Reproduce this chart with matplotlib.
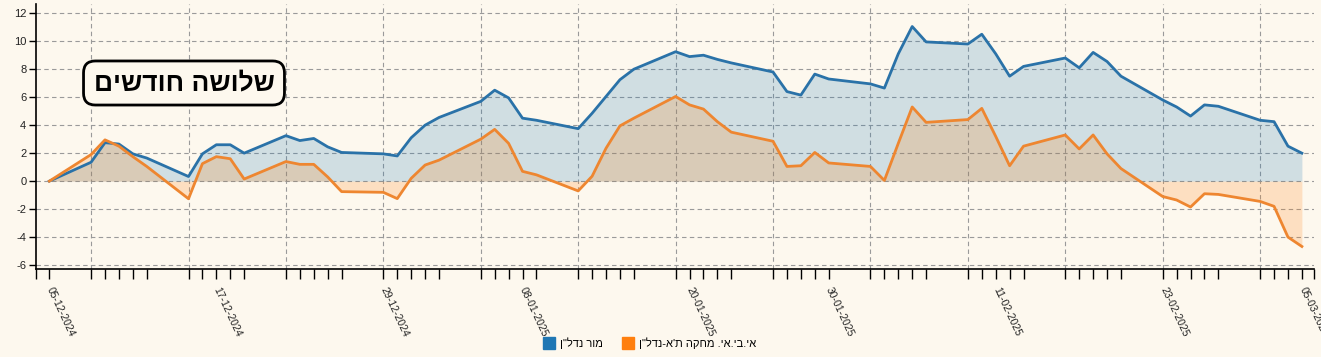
import pandas as pd
import matplotlib.pyplot as plt
import matplotlib.dates as mdates
from matplotlib.lines import Line2D
from matplotlib.ticker import FixedLocator, FuncFormatter

plt.rcParams['font.family'] = ['Liberation Sans', 'DejaVu Sans']
plt.rcParams['axes.unicode_minus'] = False

# trading days (Sun-Thu)
dates = ['2024-12-05', '2024-12-08', '2024-12-09', '2024-12-10', '2024-12-11', '2024-12-12',
         '2024-12-15', '2024-12-16', '2024-12-17', '2024-12-18', '2024-12-19',
         '2024-12-22', '2024-12-23', '2024-12-24', '2024-12-25', '2024-12-26',
         '2024-12-29', '2024-12-30', '2024-12-31', '2025-01-01', '2025-01-02',
         '2025-01-05', '2025-01-06', '2025-01-07', '2025-01-08', '2025-01-09',
         '2025-01-12', '2025-01-13', '2025-01-14', '2025-01-15', '2025-01-16',
         '2025-01-19', '2025-01-20', '2025-01-21', '2025-01-22', '2025-01-23',
         '2025-01-26', '2025-01-27', '2025-01-28', '2025-01-29', '2025-01-30',
         '2025-02-02', '2025-02-03', '2025-02-04', '2025-02-05', '2025-02-06',
         '2025-02-09', '2025-02-10', '2025-02-11', '2025-02-12', '2025-02-13',
         '2025-02-16', '2025-02-17', '2025-02-18', '2025-02-19', '2025-02-20',
         '2025-02-23', '2025-02-24', '2025-02-25', '2025-02-26', '2025-02-27',
         '2025-03-02', '2025-03-03', '2025-03-04', '2025-03-05']

mor = [0, 1.35, 2.75, 2.65, 1.95, 1.65,
       0.33, 1.95, 2.6, 2.6, 2.0,
       3.25, 2.9, 3.05, 2.45, 2.05,
       1.95, 1.8, 3.1, 4.0, 4.55,
       5.7, 6.5, 5.95, 4.5, 4.35,
       3.75, 4.85, 6.05, 7.25, 8.0,
       9.25, 8.9, 9.0, 8.7, 8.45,
       7.8, 6.4, 6.15, 7.65, 7.3,
       6.95, 6.65, 9.1, 11.05, 9.95,
       9.8, 10.5, 9.1, 7.5, 8.2,
       8.8, 8.1, 9.2, 8.55, 7.5,
       5.8, 5.3, 4.65, 5.45, 5.35,
       4.35, 4.25, 2.5, 2.0]

ibi = [0, 1.9, 2.95, 2.5, 1.75, 1.05,
       -1.26, 1.25, 1.75, 1.6, 0.15,
       1.4, 1.2, 1.2, 0.3, -0.75,
       -0.8, -1.25, 0.2, 1.15, 1.5,
       3.0, 3.7, 2.7, 0.7, 0.45,
       -0.7, 0.35, 2.35, 3.95, 4.5,
       6.05, 5.45, 5.15, 4.25, 3.5,
       2.85, 1.05, 1.1, 2.05, 1.3,
       1.05, 0.05, 2.7, 5.3, 4.2,
       4.4, 5.2, 3.2, 1.1, 2.5,
       3.3, 2.3, 3.3, 1.95, 0.9,
       -1.1, -1.35, -1.85, -0.9, -0.95,
       -1.45, -1.8, -4.0, -4.67]

label_dates = ['2024-12-05', '2024-12-17', '2024-12-29', '2025-01-08', '2025-01-20',
               '2025-01-30', '2025-02-11', '2025-02-23', '2025-03-05']
tick_labels = ['05-12-2024', '17-12-2024', '29-12-2024', '08-01-2025', '20-01-2025',
               '30-01-2025', '11-02-2025', '23-02-2025', '05-03-2025']
series_names = ['מור נדל"ן', 'אי.בי.אי. מחקה ת\'א-נדל"ן']
title = 'שלושה חודשים'

bg = '#fdf8ee'
blue = '#2a72a8'
orange = '#ee8630'


def rtl(s):
    # matplotlib has no bidi support, so flip hebrew for display
    return s[::-1]


x = pd.to_datetime(dates)
fig = plt.figure(figsize=(13.21, 3.57), dpi=100, facecolor=bg)
ax = fig.add_axes([0.02725, 0.2457, 0.9675, 0.7431], facecolor=bg)

ax.fill_between(x, mor, 0, color='#1f77b4', alpha=0.2, linewidth=0)
ax.fill_between(x, ibi, 0, color='#ff7f0e', alpha=0.2, linewidth=0)
ax.plot(x, mor, color=blue, lw=2, solid_joinstyle='round')
ax.plot(x, ibi, color=orange, lw=2, solid_joinstyle='round')

xmin = x[0] - pd.Timedelta(hours=23)
xmax = x[-1] + pd.Timedelta(hours=21)
ax.set_xlim(xmin, xmax)
ax.set_ylim(-6.3, 12.66)

# ticks on every trading day, labels only on a few
lab = dict(zip(pd.to_datetime(label_dates), tick_labels))
tick_pos = [mdates.date2num(xmin)] + list(mdates.date2num(x)) + [mdates.date2num(xmax)]
ax.xaxis.set_major_locator(FixedLocator(tick_pos))
ax.xaxis.set_major_formatter(FuncFormatter(
    lambda v, p: lab.get(pd.Timestamp(mdates.num2date(v).replace(tzinfo=None)).round('D'), '')))
# weekly grid on sundays (these overlap major ticks, keep them anyway)
ax.xaxis.set_minor_locator(mdates.WeekdayLocator(byweekday=mdates.SU))
ax.xaxis.remove_overlapping_locs = False
ax.tick_params(axis='x', which='major', length=7, width=1, pad=6, labelsize=7.5)
ax.tick_params(axis='x', which='minor', length=0)
for t in ax.get_xticklabels():
    t.set_rotation(-65)
    t.set_rotation_mode('anchor')
    t.set_ha('left')
    t.set_va('center')
    t.set_color('#222222')

ax.set_yticks(range(-6, 13, 2))
ax.tick_params(axis='y', length=5, width=1, pad=2, labelsize=8, labelcolor='#222222')

ax.grid(axis='y', which='major', color='#9a9a9a', linestyle=(0, (4, 3)), linewidth=0.8)
ax.grid(axis='x', which='minor', color='#9a9a9a', linestyle=(0, (4, 3)), linewidth=0.8)
ax.set_axisbelow(True)

ax.spines['top'].set_visible(False)
ax.spines['right'].set_visible(False)
ax.spines['left'].set_linewidth(1.2)
ax.spines['bottom'].set_linewidth(1.2)

fig.text(184 / 1321, 1 - 83 / 357, rtl(title), fontsize=19, fontweight='bold',
         ha='center', va='center',
         bbox=dict(boxstyle='round,pad=0.38,rounding_size=0.45', fc=bg, ec='black', lw=2))

handles = [Line2D([], [], marker='s', linestyle='', color='#1f77b4', markersize=8),
           Line2D([], [], marker='s', linestyle='', color='#ff7f0e', markersize=8)]
fig.legend(handles, [rtl(s) for s in series_names], loc='center',
           bbox_to_anchor=(650 / 1321, 1 - 343 / 357), ncol=2, frameon=False,
           fontsize=8, handletextpad=0.5, columnspacing=1.8, handlelength=1)

fig.savefig('out.png', dpi=100, facecolor=bg)
